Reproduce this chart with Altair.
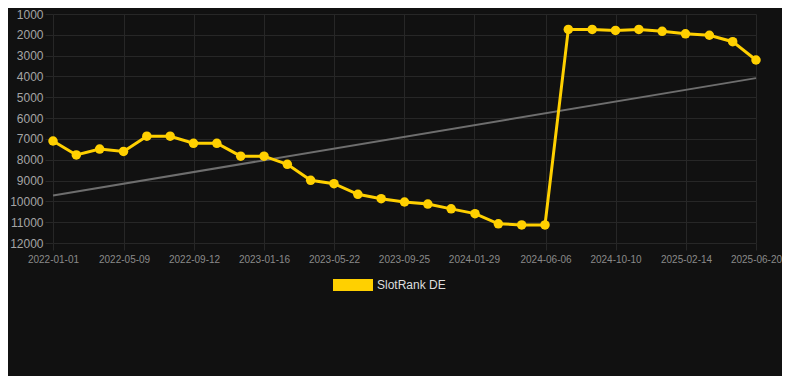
import altair as alt
import pandas as pd

dates = [
    "2022-01-01", "2022-02-12", "2022-03-26", "2022-05-08", "2022-06-19",
    "2022-07-31", "2022-09-11", "2022-10-23", "2022-12-05", "2023-01-16",
    "2023-02-27", "2023-04-10", "2023-05-22", "2023-07-04", "2023-08-15",
    "2023-09-26", "2023-11-07", "2023-12-19", "2024-01-31", "2024-03-13",
    "2024-04-24", "2024-06-05", "2024-07-17", "2024-08-29", "2024-10-10",
    "2024-11-21", "2025-01-02", "2025-02-13", "2025-03-28", "2025-05-09",
    "2025-06-20",
]
ranks = [
    7100, 7770, 7490, 7600, 6870, 6870, 7210, 7210, 7830, 7830,
    8220, 8990, 9150, 9660, 9870, 10030, 10130, 10360, 10590, 11080,
    11130, 11130, 1740, 1740, 1790, 1740, 1830, 1950, 2020, 2330,
    3210,
]
trend_dates = ["2022-01-01", "2025-06-20"]
trend_values = [9720, 4080]
tick_dates = [
    (2022, 1, 1), (2022, 5, 9), (2022, 9, 12), (2023, 1, 16), (2023, 5, 22),
    (2023, 9, 25), (2024, 1, 29), (2024, 6, 6), (2024, 10, 10), (2025, 2, 14),
    (2025, 6, 20),
]
y_ticks = [1000, 2000, 3000, 4000, 5000, 6000, 7000, 8000, 9000, 10000, 11000, 12000]
series_name = "SlotRank DE"

df = pd.DataFrame({"date": dates, "rank": ranks, "series": series_name})
tdf = pd.DataFrame({"date": trend_dates, "rank": trend_values})

YELLOW = "#FFD000"
GRID = "#272727"

def dt(t):
    return alt.DateTime(year=t[0], month=t[1], date=t[2], utc=True)

x_enc = alt.X(
    "date:T",
    scale=alt.Scale(type="utc", domain=[dt(tick_dates[0]), dt(tick_dates[-1])]),
    axis=alt.Axis(
        values=[dt(t) for t in tick_dates],
        labelExpr="utcFormat(datum.value, '%Y-%m-%d')",
        title=None,
        grid=True,
        gridColor=GRID,
        tickColor=GRID,
        tickSize=7,
        domain=False,
        labelColor="#8a8a8a",
        labelFontSize=10,
        labelFont="Liberation Sans",
        labelPadding=4,
        labelFlush=False,
        labelOverlap=False,
    ),
)
y_enc = alt.Y(
    "rank:Q",
    scale=alt.Scale(domain=[1000, 12000], reverse=True, nice=False, zero=False),
    axis=alt.Axis(
        values=y_ticks,
        format="d",
        title=None,
        grid=True,
        gridColor=GRID,
        tickColor=GRID,
        tickSize=8,
        domain=False,
        labelColor="#a5a5a5",
        labelFontSize=12,
        labelFont="Liberation Sans",
        labelPadding=2,
        labelOverlap=False,
    ),
)

trend = alt.Chart(tdf).mark_line(color="#6e6e6e", strokeWidth=2).encode(x=x_enc, y=y_enc)

color_enc = alt.Color(
    "series:N",
    scale=alt.Scale(domain=[series_name], range=[YELLOW]),
    legend=alt.Legend(
        title=None,
        orient="none",
        legendX=280,
        legendY=251,
        symbolType="M-1,-0.3L1,-0.3L1,0.3L-1,0.3Z",
        symbolSize=1600,
        symbolStrokeWidth=0,
        symbolFillColor=YELLOW,
        labelColor="#dddddd",
        labelFontSize=12,
        labelFont="Liberation Sans",
        labelOffset=4,
    ),
)

line = alt.Chart(df).mark_line(strokeWidth=3).encode(x=x_enc, y=y_enc, color=color_enc)
points = alt.Chart(df).mark_point(filled=True, size=90, opacity=1).encode(
    x=x_enc, y=y_enc, color=alt.Color("series:N", scale=alt.Scale(domain=[series_name], range=[YELLOW]), legend=None)
)

chart = (
    alt.layer(trend, line, points)
    .properties(
        width=703,
        height=229,
        background="#111111",
        padding={"left": 45, "top": 6, "right": 26, "bottom": 133},
        autosize=alt.AutoSizeParams(type="none"),
    )
    .configure_view(stroke=None)
)

chart.save("out.html", embed_options={"renderer": "svg", "actions": False})
